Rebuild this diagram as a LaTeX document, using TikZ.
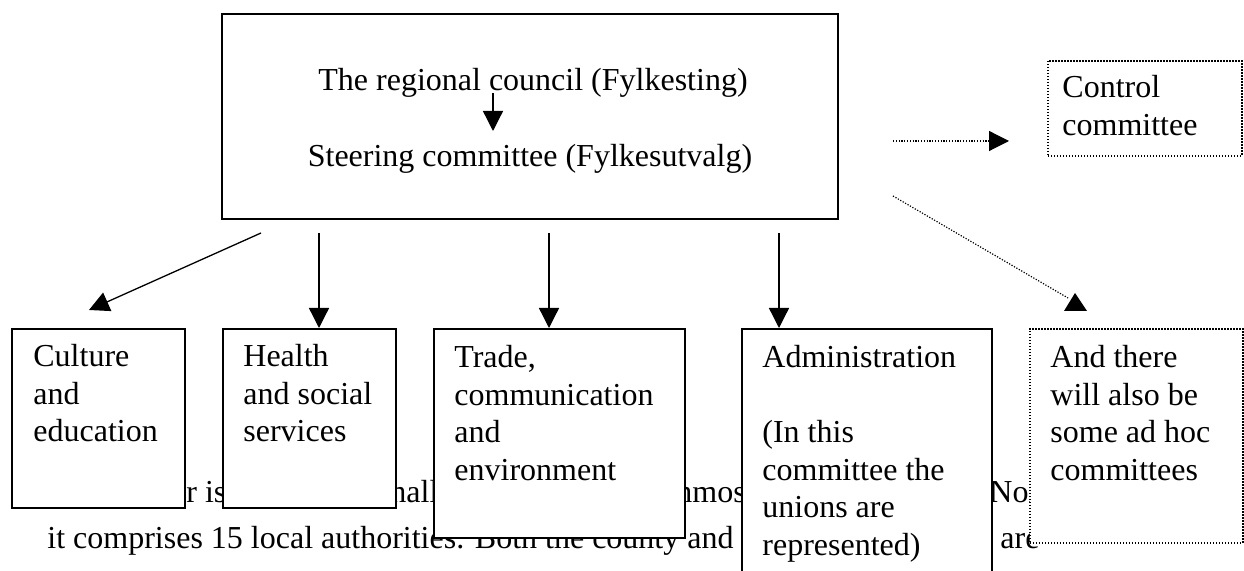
\documentclass[tikz,border=0pt]{standalone}
\usepackage{fontspec}
\setmainfont{Liberation Serif}
\usetikzlibrary{arrows.meta}
\begin{document}
\begin{tikzpicture}[x=0.5pt,y=-0.5pt,
  txt/.style={font=\fontsize{16}{18.75}\selectfont, inner sep=0pt, anchor=base west, align=left},
  box/.style={draw, line width=0.8pt, fill=white, inner sep=0pt, anchor=north west},
  dbox/.style={box, dash pattern=on 0.75pt off 0.75pt},
  link/.style={line width=0.65pt, -{Triangle[length=10pt,width=10pt]}},
  dlink/.style={line width=0.6pt, dash pattern=on 0.6pt off 0.8pt}]
\useasboundingbox (0,0) rectangle (1244,571);

% running text of the page, partly hidden behind the chart boxes
\node[txt] (p1a) at (186,503) {r is};
\node[txt] (p1b) at (390,503) {hall};
\node[txt] (p1c) at (676,503) {nmost};
\node[txt] (p1d) at (989,503) {Nor};
\node[txt] (p2a) at (47,549) {it comprises 15 local authorities. Both the county and t};
\node[txt] (p2b) at (1000,549) {are};

% council box
\node[box, minimum width=308pt, minimum height=102.5pt] (main) at (221,13) {};
\node[txt, anchor=base] (council) at (533,91) {The regional council (Fylkesting)};
\node[txt, anchor=base] (steer) at (530,167) {Steering committee (Fylkesutvalg)};
\coordinate (inA) at (493,93);
\coordinate (inB) at (493,131);
\draw[link] (inA) -- (inB);

% committees
\node[box, minimum width=86.5pt, minimum height=89.5pt] (cult) at (11,328) {};
\node[box, minimum width=86.5pt, minimum height=89.5pt] (health) at (222,328) {};
\node[box, minimum width=125.5pt, minimum height=104.5pt] (trade) at (433,328) {};
\node[box, minimum width=125pt, minimum height=130pt] (admin) at (741,328) {};
\node[dbox, minimum width=106.5pt, minimum height=107pt] (adhoc) at (1029,328) {};
\node[dbox, minimum width=97pt, minimum height=47.5pt] (ctrl) at (1047,60) {};

% multi-line labels are placed by the baseline of their last line
\node[txt] (cultT) at (33,442) {Culture\\and\\education};
\node[txt] (healthT) at (243,442) {Health\\and social\\services};
\node[txt] (tradeT) at (454,480.5) {Trade,\\communication\\and\\environment};
\node[txt] (adminT) at (762,555.5) {Administration\\\mbox{}\\(In this\\committee the\\unions are\\represented)};
\node[txt] (adhocT) at (1050,480.5) {And there\\will also be\\some ad hoc\\committees};
\node[txt] (ctrlT) at (1062,135.5) {Control\\committee};

% connectors
\coordinate (s1) at (261,233);
\coordinate (e1) at (89,310);
\coordinate (s2) at (319,233);
\coordinate (s3) at (549,233);
\coordinate (s4) at (779,233);
\draw[link] (s1) -- (e1);
\draw[link] (s2) -- (s2 |- health.north);
\draw[link] (s3) -- (s3 |- trade.north);
\draw[link] (s4) -- (s4 |- admin.north);

\coordinate (d1) at (893,141);
\coordinate (d1e) at (1009,141);
\draw[dlink, -{Triangle[length=10pt,width=10pt]}] (d1) -- (d1e);
\coordinate (d2) at (893,196);
\coordinate (d2e) at (1068,298);
\draw[dlink] (d2) -- (d2e);
\fill (1075,293) -- (1064,311) -- (1087,311) -- cycle;
\end{tikzpicture}
\end{document}
